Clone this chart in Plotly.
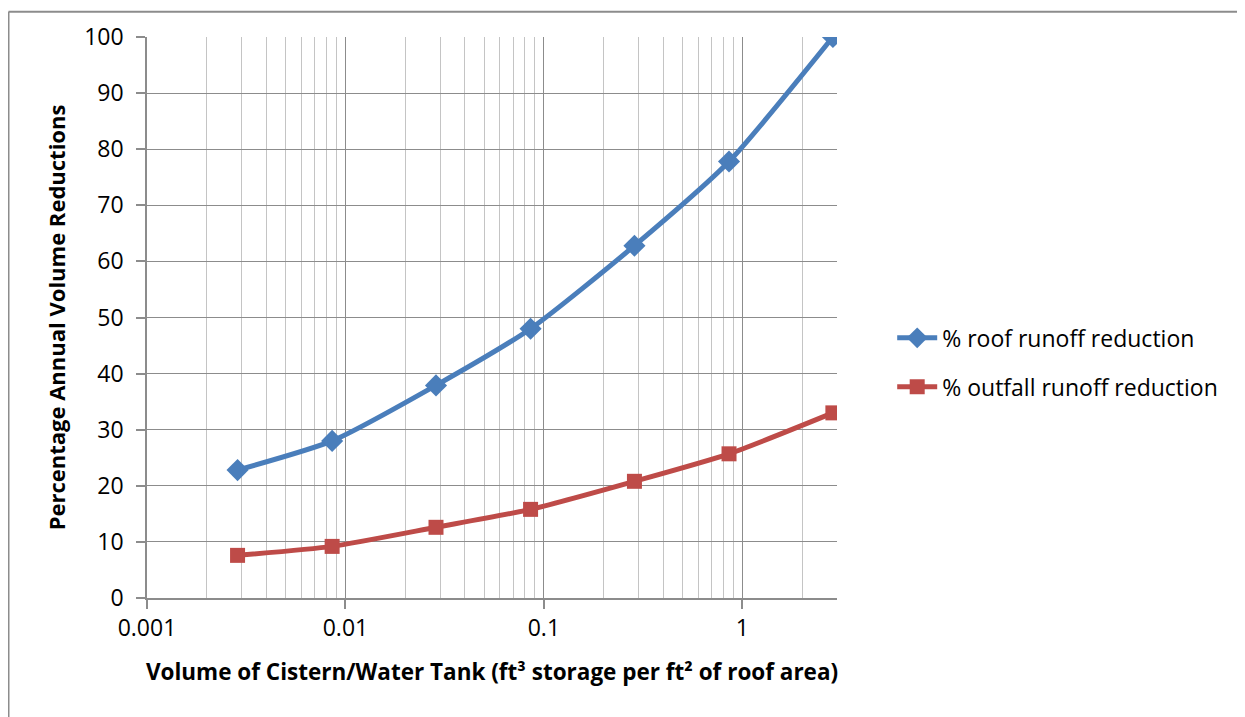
import plotly.graph_objects as go
import numpy as np

# Data
storage_volume = [0.00286, 0.00857, 0.0286, 0.0857, 0.286, 0.857, 2.86]
roof_reduction = [22.8, 28.0, 37.9, 48.0, 62.8, 77.8, 100.0]
outfall_reduction = [7.6, 9.2, 12.6, 15.8, 20.8, 25.7, 33.0]
x_tick_vals = [0.001, 0.01, 0.1, 1]
x_tick_text = ["0.001", "0.01", "0.1", "1"]
y_tick_vals = list(range(0, 101, 10))
series_names = ["% roof runoff reduction", "% outfall runoff reduction"]

FONT = "Open Sans"
BLUE = "#4a7ebb"
RED = "#be4b48"
GRID_MAJOR = "#8c8c8c"
GRID_MINOR = "#c4c4c4"

W, H = 1237, 709
L, T, PW, PH = 139, 26, 690, 564

minor_vals = [m * 10.0 ** e for e in range(-3, 1) for m in range(2, 10)]
minor_vals = [v for v in minor_vals if v <= 3.0001]

fig = go.Figure()
fig.add_trace(go.Scatter(
    x=storage_volume, y=roof_reduction, name=series_names[0],
    mode="lines+markers", line=dict(color=BLUE, width=5, shape="spline", smoothing=0.6),
    marker=dict(symbol="diamond", size=17, color=BLUE),
    legendgroup="a",
))
fig.add_trace(go.Scatter(
    x=storage_volume, y=outfall_reduction, name=series_names[1],
    mode="lines+markers", line=dict(color=RED, width=5, shape="spline", smoothing=0.6),
    marker=dict(symbol="square", size=15, color=RED),
    legendgroup="b",
))

fig.update_layout(
    width=W, height=H,
    margin=dict(l=L, r=W - L - PW, t=T, b=H - T - PH),
    paper_bgcolor="white", plot_bgcolor="white",
    font=dict(family=FONT, size=23, color="#000000"),
    showlegend=True,
    legend=dict(x=1.08, y=0.42, xanchor="left", yanchor="middle",
                font=dict(family=FONT, size=23), tracegroupgap=16,
                bgcolor="rgba(0,0,0,0)", itemwidth=40),
    xaxis=dict(
        type="log", range=[np.log10(0.001), np.log10(3.0)],
        tickmode="array", tickvals=x_tick_vals, ticktext=x_tick_text,
        showgrid=True, gridcolor=GRID_MAJOR, gridwidth=1.3,
        minor=dict(tickmode="array", tickvals=minor_vals, showgrid=True,
                   gridcolor=GRID_MINOR, gridwidth=1.3, ticks=""),
        showline=True, linecolor=GRID_MAJOR, linewidth=1.5,
        ticks="outside", ticklen=9, tickcolor=GRID_MAJOR, tickwidth=1.5,
        tickfont=dict(family=FONT, size=23),
        zeroline=False,
        title=dict(text="<b>Volume of Cistern/Water Tank (ft³ storage per ft² of roof area)</b>",
                   font=dict(family=FONT, size=22.5), standoff=22),
    ),
    yaxis=dict(
        range=[0, 100], tickmode="array", tickvals=y_tick_vals,
        showgrid=True, gridcolor=GRID_MAJOR, gridwidth=1.3,
        showline=True, linecolor=GRID_MAJOR, linewidth=1.5,
        ticks="outside", ticklen=9, tickcolor=GRID_MAJOR, tickwidth=1.5,
        tickfont=dict(family=FONT, size=23), ticklabelstandoff=8,
        zeroline=False,
        title=dict(text="<b>Percentage Annual Volume Reductions</b>",
                   font=dict(family=FONT, size=22), standoff=12),
    ),
    shapes=[
        dict(type="line", xref="paper", yref="paper",
             x0=(0.5 - L) / PW, x1=(W + 20 - L) / PW,
             y0=(PH + T - 0.5) / PH, y1=(PH + T - 0.5) / PH,
             line=dict(color="#8c8c8c", width=2)),
        dict(type="line", xref="paper", yref="paper",
             x0=(0.5 - L) / PW, x1=(0.5 - L) / PW,
             y0=(PH + T - 0.5) / PH, y1=-(H - T - PH + 20) / PH,
             line=dict(color="#8c8c8c", width=2)),
    ],
)

fig.write_html("out.html")
